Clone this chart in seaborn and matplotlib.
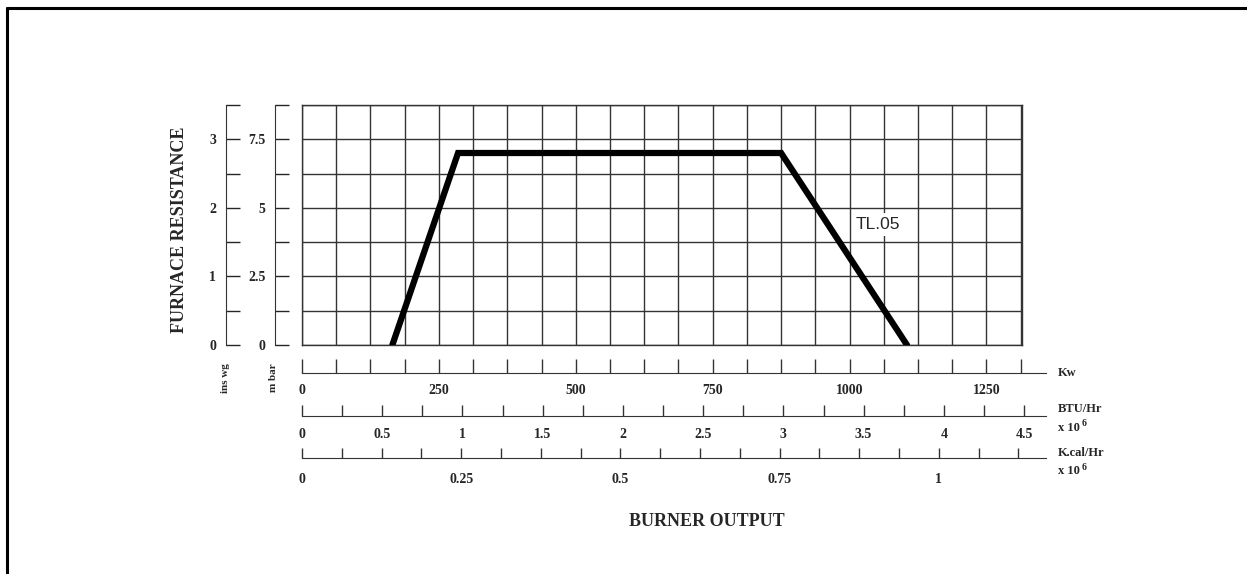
import numpy as np
import pandas as pd
import seaborn as sns
import matplotlib.pyplot as plt
from matplotlib.lines import Line2D

sns.set_style("white")
plt.rcParams["font.family"] = ["Liberation Serif", "DejaVu Serif"]
plt.rcParams["font.weight"] = "bold"

# burner working field (kW vs furnace resistance in mbar)
curve_kw = [165, 285, 875, 1105]
curve_mbar = [0, 7, 7, 0]
model = "TL.05"

kw_labels = [0, 250, 500, 750, 1000, 1250]
btu_labels = [0, 0.5, 1, 1.5, 2, 2.5, 3, 3.5, 4, 4.5]
kcal_labels = [0, 0.25, 0.5, 0.75, 1]
mbar_labels = [0, 2.5, 5, 7.5]
inwg_labels = [0, 1, 2, 3]

KW_MAX = 1315.0
MBAR_MAX = 8.75
W, H = 1247, 574

fig = plt.figure(figsize=(W / 100, H / 100), dpi=100)

def fx(px):
    return px / W

def fy(py):
    return 1 - py / H

# main grid
ax = fig.add_axes([fx(302), fy(345), fx(720), 240 / H])
ax.set_xlim(0, KW_MAX)
ax.set_ylim(0, MBAR_MAX)
ax.set_xticks(np.arange(0, KW_MAX, 62.5))
ax.set_yticks(np.arange(0, MBAR_MAX + 0.01, 1.25))
ax.grid(True, color="0.2", lw=1)
ax.set_axisbelow(True)
ax.tick_params(length=0, labelbottom=False, labelleft=False)
for s in ax.spines.values():
    s.set_color("0.2")
    s.set_linewidth(1)

df = pd.DataFrame({"kw": curve_kw, "mbar": curve_mbar})
sns.lineplot(data=df, x="kw", y="mbar", sort=False, color="black", lw=4.5,
             solid_joinstyle="miter", ax=ax, zorder=3)
ax.set_xlabel("")
ax.set_ylabel("")
ax.text(1052, 4.4, model, family="Liberation Sans", fontweight="normal",
        fontsize=12.5, ha="center", va="center", zorder=2,
        bbox=dict(facecolor="white", edgecolor="none", pad=3))

# left scales
mb = ax.secondary_yaxis(-27 / 720)
mb.set_yticks(mbar_labels)
mb.set_yticklabels([f"{v:g}" for v in mbar_labels])
mb.set_yticks(np.arange(0, MBAR_MAX + 0.01, 1.25), minor=True)
mb.tick_params(which="both", left=True, direction="in", length=10, width=1,
               pad=7, labelsize=10)

iw = ax.secondary_yaxis(-76 / 720, functions=(lambda m: m / 2.5, lambda i: i * 2.5))
iw.set_yticks(inwg_labels)
iw.set_yticklabels([f"{v:g}" for v in inwg_labels])
iw.set_yticks(np.arange(0, 3.51, 0.5), minor=True)
iw.tick_params(which="both", left=True, direction="in", length=10, width=1,
               pad=7, labelsize=10)
for a in (mb, iw):
    a.spines["left"].set_color("0.2")

# bottom scales, each its own axis line extending past the grid
def scale_axis(y_px, vmax, ticks, labels, minor, ticklen, pad):
    a = fig.add_axes([fx(302), fy(y_px), fx(744), 1e-4])
    a.set_xlim(0, vmax * 744 / 720)
    for k in ("top", "left", "right"):
        a.spines[k].set_visible(False)
    a.spines["bottom"].set_color("0.2")
    a.patch.set_visible(False)
    a.set_yticks([])
    a.set_xticks(ticks)
    a.set_xticklabels(labels)
    a.set_xticks(minor, minor=True)
    a.tick_params(which="both", bottom=True, direction="in", length=ticklen,
                  width=1, color="0.2")
    a.tick_params(which="major", pad=pad, labelsize=10)
    return a

scale_axis(373, KW_MAX, kw_labels, [f"{v:g}" for v in kw_labels],
           np.arange(0, 1313, 62.5), 10, 8)
scale_axis(416, KW_MAX / 293.07, btu_labels, [f"{v:g}" for v in btu_labels],
           np.arange(0, 4.51, 0.25), 8, 9)
scale_axis(458, KW_MAX / 1163.0, kcal_labels, [f"{v:g}" for v in kcal_labels],
           np.arange(0, 1.13, 0.0625), 7, 11)

# unit labels
fig.text(fx(1058), fy(373), "Kw", fontsize=9, va="center")
fig.text(fx(1058), fy(409), "BTU/Hr", fontsize=9, va="center")
fig.text(fx(1058), fy(428), "x 10", fontsize=9, va="center")
fig.text(fx(1082), fy(424), "6", fontsize=7, va="center")
fig.text(fx(1058), fy(453), "K.cal/Hr", fontsize=9, va="center")
fig.text(fx(1058), fy(471), "x 10", fontsize=9, va="center")
fig.text(fx(1082), fy(467), "6", fontsize=7, va="center")
fig.text(fx(226), fy(378), "ins wg", fontsize=8, rotation=90, ha="center", va="center")
fig.text(fx(274), fy(378), "m bar", fontsize=8, rotation=90, ha="center", va="center")

fig.text(fx(180), fy(230), "FURNACE RESISTANCE", fontsize=13, rotation=90,
         ha="center", va="center")
fig.text(fx(707), fy(522), "BURNER OUTPUT", fontsize=13, ha="center", va="center")

# page frame (top and left edges)
fig.add_artist(Line2D([fx(7), 1.0], [fy(8), fy(8)], color="black", lw=2.2))
fig.add_artist(Line2D([fx(7), fx(7)], [fy(8), 0.0], color="black", lw=2.2))

fig.savefig("out.png", dpi=100)
